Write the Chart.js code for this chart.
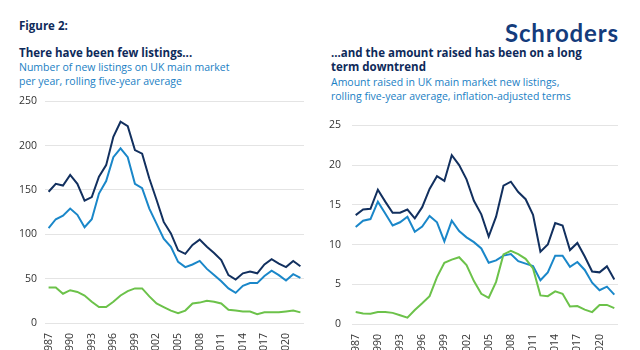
<!DOCTYPE html>
<html>
<head>
<meta charset="utf-8">
<script src="https://cdn.jsdelivr.net/npm/chart.js@4.4.0/dist/chart.umd.min.js"></script>
<style>
  html, body { margin: 0; padding: 0; background: #fff; overflow: hidden; width: 640px; height: 350px; }
  body { position: relative; font-family: "Open Sans", "Noto Sans", sans-serif; }
  .txt { position: absolute; white-space: nowrap; font-size: 10.5px; line-height: 14px; }
  .bold { font-weight: bold; color: #0e2a5a; font-size: 11.5px; }
  .sub { color: #1a80c4; }
  #logo { position: absolute; left: 505px; top: 18px; font-family: Lato, sans-serif; font-size: 24px; font-weight: bold; color: #143c7c; letter-spacing: 0.8px; }
  canvas { position: absolute; }
</style>
</head>
<body>
<div class="txt bold" style="left:19px; top:19px;">Figure 2:</div>
<div id="logo">Schroders</div>

<div class="txt bold" style="left:19px; top:46px;">There have been few listings...</div>
<div class="txt sub" style="left:19px; top:60px;">Number of new listings on UK main market<br>per year, rolling five-year average</div>

<div class="txt bold" style="left:331px; top:46px;">...and the amount raised has been on a long<br>term downtrend</div>
<div class="txt sub" style="left:331px; top:75px;">Amount raised in UK main market new listings,<br>rolling five-year average, inflation-adjusted terms</div>

<canvas id="leftChart" width="320" height="283" style="left:0px; top:87px;"></canvas>
<canvas id="rightChart" width="325" height="264" style="left:320px; top:108px;"></canvas>

<script>
// Years on the x axis
const years = ['1987','1988','1989','1990','1991','1992','1993','1994','1995','1996','1997','1998',
               '1999','2000','2001','2002','2003','2004','2005','2006','2007','2008','2009','2010',
               '2011','2012','2013','2014','2015','2016','2017','2018','2019','2020','2021','2022'];

// Left: number of new listings
const listingsTotal = [148,157,155,167,157,138,142,165,178,210,227,222,195,191,163,139,114,101,
                       82,78,88,94,86,79,71,54,49,56,58,56,66,72,67,63,70,64];
const listingsBlue  = [107,117,121,129,122,108,117,146,160,187,197,187,157,152,129,112,95,86,
                       69,63,66,70,61,54,47,39,34,42,45,45,53,59,54,48,55,51];
const listingsGreen = [40,40,33,37,35,31,24,18,18,24,31,36,39,39,30,22,18,14,
                       11,14,22,23,25,24,22,15,14,13,13,10,12,12,12,13,14,12];

// Right: amount raised
const raisedTotal = [13.7,14.4,14.5,16.9,15.4,14.0,14.0,14.4,13.3,14.7,17.0,18.6,18.0,21.25,20.0,18.2,15.5,13.8,
                     11.0,13.5,17.4,17.9,16.6,15.7,13.75,9.1,10.0,12.7,12.4,9.3,10.2,8.5,6.6,6.5,7.25,5.6];
const raisedBlue  = [12.2,13.0,13.2,15.4,13.9,12.4,12.8,13.5,11.6,12.25,13.6,12.8,10.4,13.0,11.7,10.9,10.3,9.5,
                     7.7,8.0,8.6,8.8,7.9,7.6,7.3,5.5,6.5,8.6,8.6,7.2,7.8,6.8,5.2,4.25,4.7,3.7];
const raisedGreen = [1.5,1.33,1.3,1.5,1.5,1.4,1.1,0.8,1.75,2.6,3.5,5.9,7.7,8.1,8.4,7.4,5.4,3.8,
                     3.3,5.3,8.75,9.2,8.8,8.2,7.0,3.6,3.5,4.1,3.8,2.2,2.25,1.8,1.5,2.4,2.4,2.0];

const NAVY = '#12305f';
const BLUE = '#1a87c9';
const GREEN = '#6cc24a';
const FONT = { family: '"Open Sans", "Noto Sans", sans-serif', size: 10.5 };

function makeChart(id, series, yMax, yStep, yWidth, yPad, padding) {
    const ds = series.map(s => ({
        data: s.values,
        borderColor: s.color,
        borderWidth: 2,
        pointRadius: 0,
        tension: 0,
        fill: false
    }));

    return new Chart(document.getElementById(id), {
        type: 'line',
        data: { labels: years, datasets: ds },
        options: {
            responsive: false,
            animation: false,
            layout: { padding: padding },
            plugins: { legend: { display: false }, tooltip: { enabled: false } },
            scales: {
                x: {
                    offset: true,
                    grid: { display: false },
                    border: { display: false },
                    ticks: {
                        autoSkip: false,
                        maxRotation: 90,
                        minRotation: 90,
                        padding: 2,
                        color: '#333',
                        font: FONT,
                        callback: function(value, index) {
                            return index % 3 === 0 ? this.getLabelForValue(value) : null;
                        }
                    },
                    afterFit: (scale) => { scale.height = 40; }
                },
                y: {
                    min: 0,
                    max: yMax,
                    grid: { color: '#e4e4e4', lineWidth: 1, drawTicks: false },
                    border: { display: false },
                    ticks: { stepSize: yStep, padding: yPad, color: '#333', font: FONT },
                    afterFit: (scale) => { scale.width = yWidth; }
                }
            }
        }
    });
}

makeChart('leftChart', [
    { values: listingsTotal, color: NAVY },
    { values: listingsBlue, color: BLUE },
    { values: listingsGreen, color: GREEN }
], 250, 50, 45, 8, { top: 11, bottom: 7, right: 16, left: 0 });

makeChart('rightChart', [
    { values: raisedTotal, color: NAVY },
    { values: raisedGreen, color: GREEN },
    { values: raisedBlue, color: BLUE }
], 25, 5, 32, 11, { top: 13, bottom: 8, right: 27, left: 0 });
</script>
</body>
</html>
